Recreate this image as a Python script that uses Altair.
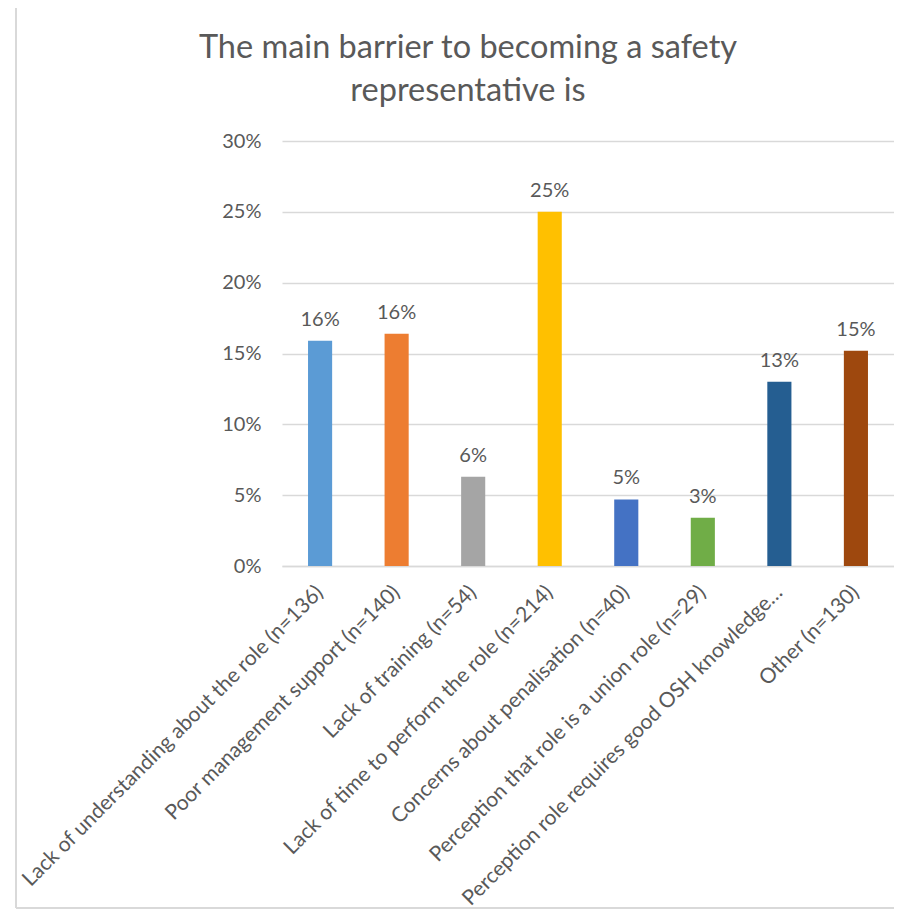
import altair as alt
import pandas as pd

title_lines = ["The main barrier to becoming a safety", "representative is"]
categories = [
    "Lack of understanding about the role (n=136)",
    "Poor management support (n=140)",
    "Lack of training (n=54)",
    "Lack of time to perform the role (n=214)",
    "Concerns about penalisation (n=40)",
    "Perception that role is a union role (n=29)",
    "Perception role requires good OSH knowledge…",
    "Other (n=130)",
]
shares = [0.159, 0.164, 0.063, 0.250, 0.047, 0.034, 0.130, 0.152]
colors = ["#5B9BD5", "#ED7D31", "#A5A5A5", "#FFC000", "#4472C4", "#70AD47", "#255E91", "#9E480E"]
y_ticks = [0, 0.05, 0.10, 0.15, 0.20, 0.25, 0.30]

df = pd.DataFrame({"category": categories, "share": shares, "color": colors})

FONT = "Lato"
TXT = "#595959"
FS = 20
EDGE = "#D9D9D9"

x_enc = alt.X("category:N", sort=None, title=None,
              scale=alt.Scale(paddingInner=0.685, paddingOuter=0.34),
              axis=alt.Axis(labelAngle=-45, labelAlign="right", labelBaseline="middle",
                            labelFontSize=21, labelColor=TXT, labelFont=FONT,
                            labelLimit=700, ticks=False, labelPadding=23,
                            domainColor=EDGE, domainWidth=1.5))
y_enc = alt.Y("share:Q", title=None,
              scale=alt.Scale(domain=[0, 0.3], nice=False),
              axis=alt.Axis(values=y_ticks, format=".0%", labelFontSize=FS,
                            labelColor=TXT, labelFont=FONT, labelPadding=21,
                            ticks=False, domain=False, gridColor=EDGE,
                            gridWidth=1.5))

bars = alt.Chart(df).mark_bar().encode(
    x=x_enc, y=y_enc,
    color=alt.Color("color:N", scale=None),
)
labels = alt.Chart(df).mark_text(baseline="bottom", dy=-11, fontSize=FS,
                                 font=FONT, color=TXT).encode(
    x=alt.X("category:N", sort=None), y="share:Q",
    text=alt.Text("share:Q", format=".0%"),
)

frame = alt.Data(values=[{}])
left_edge = alt.Chart(frame).mark_rule(color=EDGE, strokeWidth=2).encode(
    x=alt.value(-266), y=alt.value(-140), y2=alt.value(767))
bottom_edge = alt.Chart(frame).mark_rule(color=EDGE, strokeWidth=2).encode(
    x=alt.value(-266), x2=alt.value(700), y=alt.value(767))

title1 = alt.Chart(alt.Data(values=[{"t": title_lines[0]}])).mark_text(
    font=FONT, fontSize=32.5, color=TXT, align="center", baseline="alphabetic"
).encode(x=alt.value(186), y=alt.value(-83), text="t:N")
title2 = alt.Chart(alt.Data(values=[{"t": title_lines[1]}])).mark_text(
    font=FONT, fontSize=32.5, color=TXT, align="center", baseline="alphabetic"
).encode(x=alt.value(186), y=alt.value(-40), text="t:N")

chart = alt.layer(left_edge, bottom_edge, title1, title2, bars, labels).properties(
    width=612, height=425,
    autosize=alt.AutoSizeParams(type="none"),
    padding={"left": 274, "top": 133, "right": 0, "bottom": 343},
).configure_view(stroke=None)

chart.save("out.html", embed_options={"renderer": "svg", "actions": False})
